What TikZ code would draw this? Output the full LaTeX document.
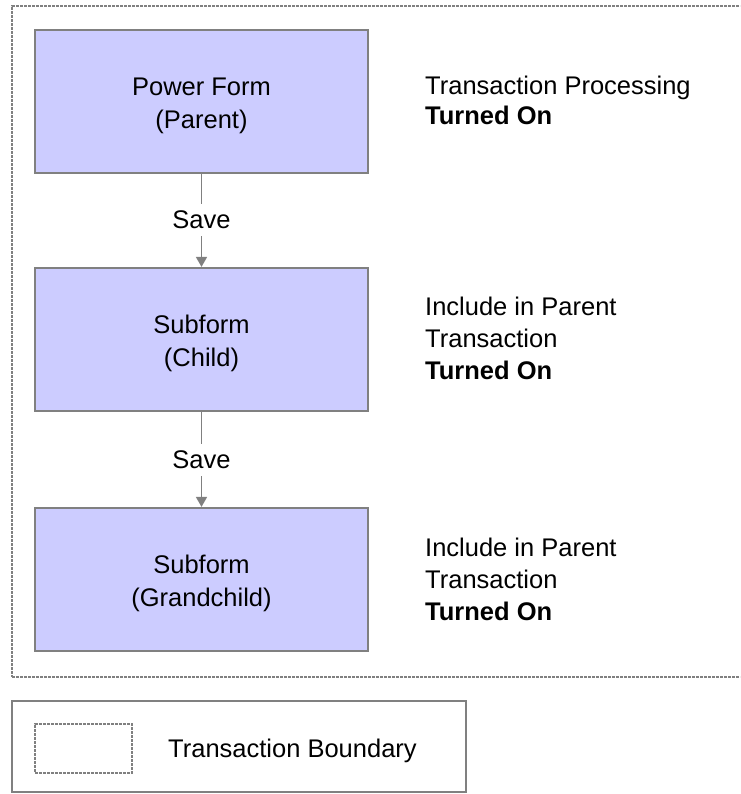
\documentclass[tikz,border=0pt]{standalone}
\usepackage{fontspec}
\setmainfont{Liberation Sans}
\usetikzlibrary{arrows.meta}
\definecolor{boxfill}{HTML}{CCCCFF}
\definecolor{edge}{HTML}{808080}
\newcommand{\tstrut}{\rule{0pt}{27pt}}
\begin{document}
\begin{tikzpicture}[x=1pt,y=-1pt,
  formbox/.style={draw=edge,line width=2.2pt,fill=boxfill,minimum width=333pt,minimum height=143pt,inner sep=0pt,align=center,font=\fontsize{25.5}{33}\selectfont},
  note/.style={anchor=base west,inner sep=0pt,font=\fontsize{25.5}{33}\selectfont},
  savelbl/.style={inner xsep=0pt,inner ysep=7pt,font=\fontsize{25.5}{28}\selectfont},
  conn/.style={draw=edge,line width=1.6pt},
  arr/.style={conn,-{Triangle[length=10pt,width=11pt]}},
  boundary/.style={draw=edge,line width=2pt,dash pattern=on 3pt off 1pt}]
\useasboundingbox (0,0) rectangle (740,794);
\begin{scope}
\clip (0,0) rectangle (740,794);
\node[boundary,minimum width=740pt,minimum height=671pt,inner sep=0pt,anchor=north west] (tb) at (11,5) {};
\end{scope}
\node[formbox] (p) at (201.5,101.5) {\tstrut Power Form\\(Parent)};
\node[formbox] (c) at (201.5,339.5) {\tstrut Subform\\(Child)};
\node[formbox] (g) at (201.5,579.5) {\tstrut Subform\\(Grandchild)};
\node[savelbl] (s1) at (201.5,220) {Save};
\node[savelbl] (s2) at (201.5,460) {Save};
\draw[conn] (p.south) -- (s1.north);
\draw[arr] (s1.south) -- (c.north);
\draw[conn] (c.south) -- (s2.north);
\draw[arr] (s2.south) -- (g.north);
\node[note] (t1) at (425,95) {Transaction Processing};
\node[note] (t2) at (425,125) {\bfseries Turned On};
\node[note] (t3) at (425,315) {Include in Parent};
\node[note] (t4) at (425,347) {Transaction};
\node[note] (t5) at (425,379) {\bfseries Turned On};
\node[note] (t6) at (425,556) {Include in Parent};
\node[note] (t7) at (425,588) {Transaction};
\node[note] (t8) at (425,620) {\bfseries Turned On};
\node[draw=edge,line width=1.6pt,minimum width=454pt,minimum height=91pt,inner sep=0pt,anchor=north west] (lg) at (11,700) {};
\node[boundary,line width=1.6pt,minimum width=97pt,minimum height=49pt,inner sep=0pt,anchor=north west] (lb) at (34,723) {};
\node[note] (lt) at (168,757) {Transaction Boundary};
\end{tikzpicture}
\end{document}
